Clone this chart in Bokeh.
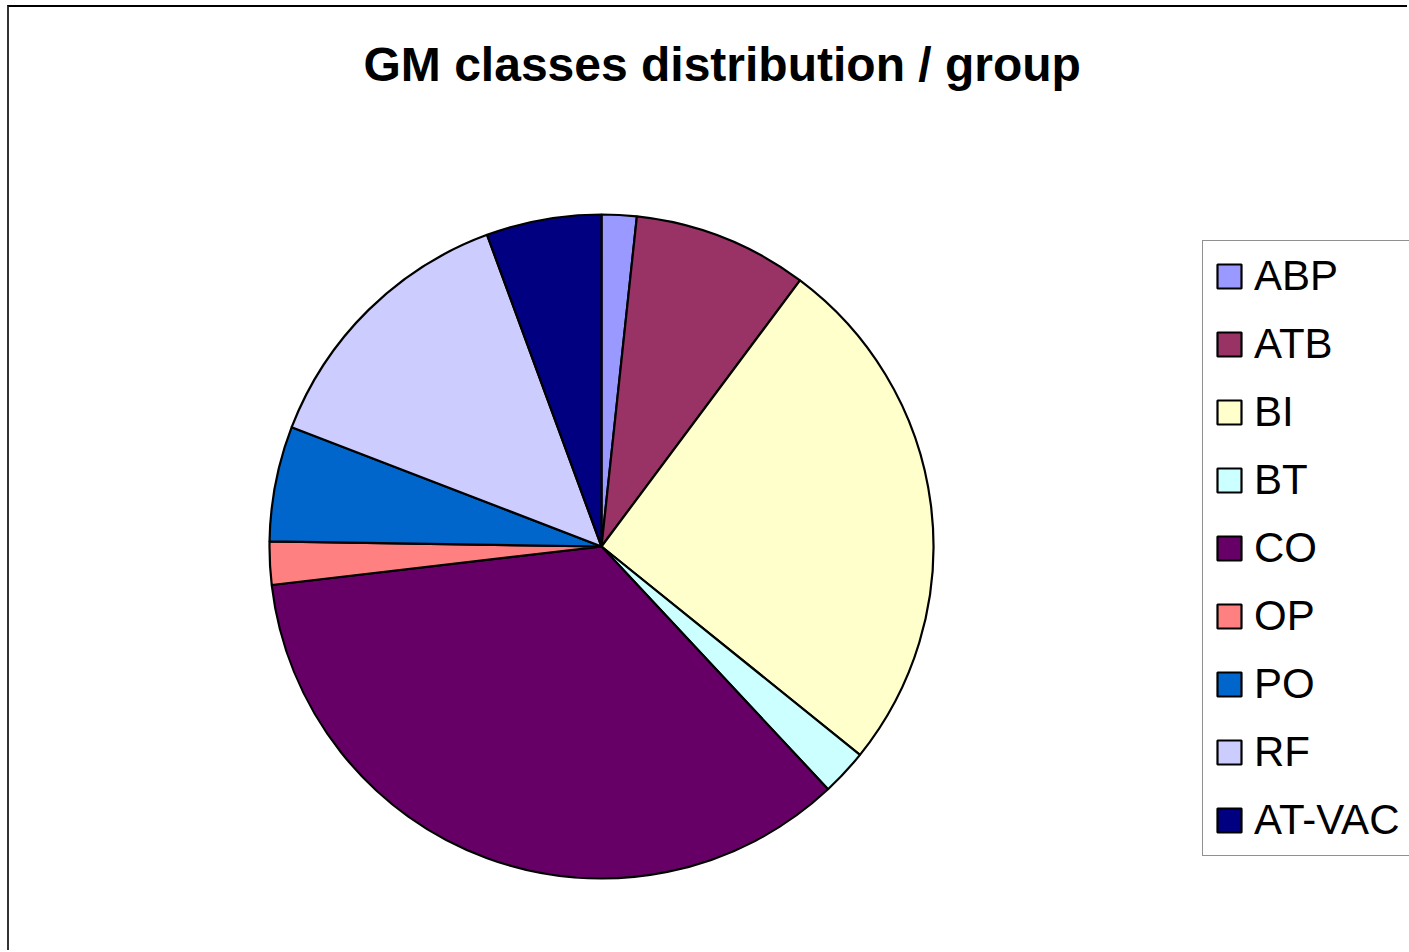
import numpy as np
from bokeh.plotting import figure
from bokeh.models import Range1d, Legend, LegendItem, ColumnDataSource
from bokeh.embed import file_html
from bokeh.resources import INLINE

# ---- data (% of total) ----
categories = ["ABP", "ATB", "BI", "BT", "CO", "OP", "PO", "RF", "AT-VAC"]
shares = [1.7, 8.5, 25.6, 2.25, 35.1, 2.1, 5.6, 13.55, 5.6]
colors = ["#9999FF", "#993366", "#FFFFCC", "#CCFFFF", "#660066",
          "#FF8080", "#0066CC", "#CCCCFF", "#000080"]
title_text = "GM classes distribution / group"

# ---- layout ----
W, H = 1400, 945
TOP = 88
FRAME_H = H - TOP
CX, CY, R = 592, 406, 332

p = figure(width=W, height=H, x_range=Range1d(0, W), y_range=Range1d(0, FRAME_H),
           output_backend="svg", toolbar_location=None, min_border=0,
           min_border_top=TOP,
           x_axis_location=None, y_axis_location=None)
p.grid.visible = False
p.outline_line_color = None
p.background_fill_color = "white"
p.border_fill_color = "white"
p.styles = {"border-top": "2px solid #000000", "border-left": "2px solid #333333",
            "margin-left": "7px", "margin-top": "5px"}

p.title.text = title_text
p.title.text_font = "Liberation Sans"
p.title.text_font_size = "48px"
p.title.text_font_style = "bold"
p.title.text_color = "black"
p.title.align = "left"
p.title.offset = 354

frac = np.array(shares, dtype=float) / sum(shares)
cum = np.concatenate([[0.0], np.cumsum(frac)])
start = np.pi / 2 - cum[:-1] * 2 * np.pi
end = np.pi / 2 - cum[1:] * 2 * np.pi
src = ColumnDataSource(dict(cat=categories, start=start, end=end, color=colors))

r = p.wedge(x=CX, y=CY, radius=R, start_angle="start", end_angle="end",
            direction="clock", fill_color="color", line_color="black",
            line_width=2.2, source=src)

items = [LegendItem(label=c, renderers=[r], index=i) for i, c in enumerate(categories)]
legend = Legend(items=items, location=(1193, 96))
legend.label_text_font = "Liberation Sans"
legend.label_text_font_size = "42px"
legend.label_text_color = "black"
legend.glyph_width = 30
legend.glyph_height = 30
legend.label_standoff = 10
legend.spacing = 20
legend.padding = 11
legend.margin = 0
legend.border_line_color = "#222222"
legend.border_line_width = 1
legend.background_fill_color = "white"
legend.background_fill_alpha = 1.0
p.add_layout(legend)

open("out.html", "w").write(file_html(p, INLINE))
